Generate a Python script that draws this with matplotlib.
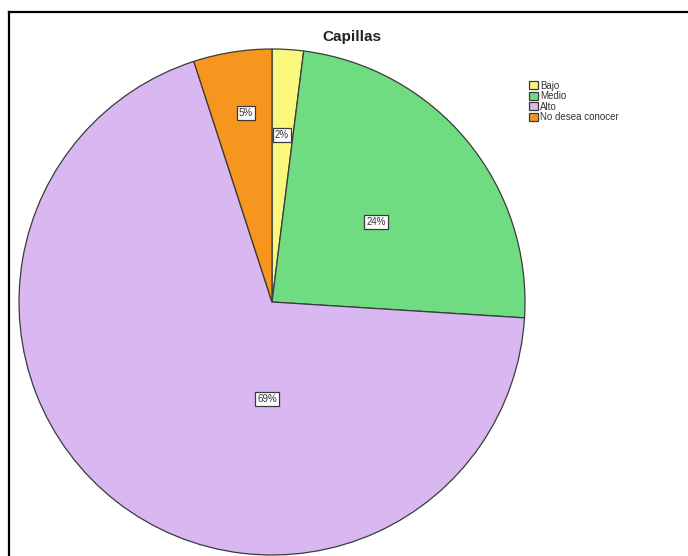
import matplotlib
matplotlib.use("Agg")
import matplotlib.pyplot as plt
from matplotlib.lines import Line2D

plt.rcParams["font.family"] = ["Liberation Sans", "DejaVu Sans"]

# data
categories = ["Bajo", "Medio", "Alto", "No desea conocer"]
percents = [2, 24, 69, 5]
colors = ["#f9f77c", "#6fdc82", "#d9b8f2", "#f7961f"]
title = "Capillas"

W, H = 688, 556
fig = plt.figure(figsize=(W / 100, H / 100), dpi=100)
ax = fig.add_axes([0, 0, 1, 1])

# pie centre and radius in pixel units (y flipped)
cx, cy, r = 272, H - 302, 253
wedges, _ = ax.pie(percents, colors=colors, startangle=90, counterclock=False,
                   center=(cx, cy), radius=r, frame=True,
                   wedgeprops=dict(edgecolor="#3a3a3a", linewidth=0.9))
ax.set_xlim(0, W)
ax.set_ylim(0, H)
ax.set_aspect("equal")
ax.axis("off")

# percentage labels (positions as in the original)
label_pos = [(282, 135), (376, 222), (267, 399), (246, 113)]
for p, (x, y) in zip(percents, label_pos):
    ax.text(x, H - y, f"{p}%", ha="center", va="center", fontsize=7,
            color="#333333",
            bbox=dict(boxstyle="square,pad=0.25", facecolor="white",
                      edgecolor="#3a3a3a", linewidth=0.9))

ax.text(352, H - 37, title, ha="center", va="center", fontsize=11,
        fontweight="bold", color="#222222")

leg = ax.legend(wedges, categories, loc="upper left",
                bbox_to_anchor=(522 / W, 1 - 74 / H), frameon=False,
                fontsize=7, handlelength=0.9, handleheight=0.9,
                handletextpad=0.3, labelspacing=0.05, borderpad=0.2)
for t in leg.get_texts():
    t.set_color("#333333")

# outer frame (only top and left visible)
fig.add_artist(Line2D([8.5 / W, 1], [1 - 11.5 / H, 1 - 11.5 / H],
                      transform=fig.transFigure, color="black", linewidth=1.6))
fig.add_artist(Line2D([8.5 / W, 8.5 / W], [0, 1 - 11.5 / H],
                      transform=fig.transFigure, color="black", linewidth=1.6))

fig.savefig("out.png", dpi=100)
